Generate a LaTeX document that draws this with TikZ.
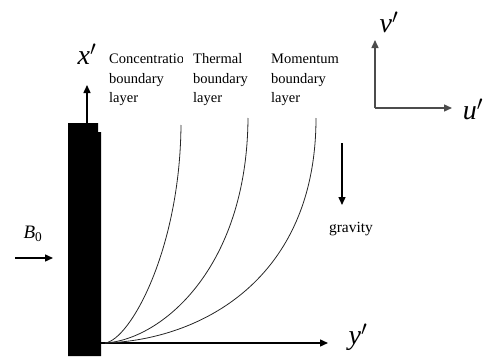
\documentclass[tikz,border=0pt]{standalone}
\usepackage{fontspec}
\setmainfont{Liberation Serif}
\usetikzlibrary{arrows.meta}
\begin{document}
\begin{tikzpicture}[x=1pt,y=-1pt,
  arr/.style={line width=1.4pt,-{Triangle[length=8pt,width=7pt]}},
  grayarr/.style={line width=1.4pt,draw=black!70,-{Triangle[length=8pt,width=7pt]}},
  curve/.style={line width=0.8pt,draw=black!85},
  lbl/.style={inner sep=0pt,anchor=north west,align=left,font=\fontsize{14.5}{19.5}\selectfont},
  mathlbl/.style={inner sep=0pt,font=\fontsize{28}{30}\selectfont}]
\useasboundingbox (0,0) rectangle (483,359);
% wall
\fill[black] (68,123) -- (98,123) -- (98,132) -- (101,132) -- (101,356) -- (68,356) -- cycle;
\coordinate (wtop) at (87,123);
\coordinate (xtip) at (87,85);
\coordinate (o) at (101,343);
\coordinate (ytip) at (328,343);
\coordinate (c0) at (105,343);
\coordinate (c1) at (181,125);
\coordinate (c2) at (248,118);
\coordinate (c3) at (316,118);
% axes
\draw[arr] (wtop) -- (xtip);
\draw[arr] (o) -- (ytip);
\node[mathlbl] (xl) at (87,54) {\textit{x}$'$};
\node[mathlbl] (yl) at (358,337) {\textit{y}$'$};
% boundary layer curves
\draw[curve] (c0) .. controls (130,340) and (180,250) .. (c1);
\draw[curve] (c0) .. controls (160,340) and (247,270) .. (c2);
\draw[curve] (c0) .. controls (200,340) and (316,280) .. (c3);
% labels
\begin{scope}
\clip (100,40) rectangle (182,120);
\node[lbl] (conc) at (109,50) {\strut Concentration\\boundary\\layer};
\end{scope}
\node[lbl] (therm) at (193,50) {\strut Thermal\\boundary\\layer};
\node[lbl] (mom) at (271,50) {\strut Momentum\\boundary\\layer};
% magnetic field
\coordinate (b1) at (15,258);
\coordinate (b2) at (53,258);
\draw[arr] (b1) -- (b2);
\node[inner sep=0pt,font=\fontsize{19}{20}\selectfont] (bl) at (33,234) {\textit{B}\textsubscript{0}};
% gravity
\coordinate (g1) at (342,143);
\coordinate (g2) at (342,205);
\draw[arr] (g1) -- (g2);
\node[inner sep=0pt,font=\fontsize{15.5}{18}\selectfont] (gl) at (351,229) {gravity};
% velocity axes
\coordinate (corner) at (375,108);
\coordinate (vtip) at (375,40);
\coordinate (utip) at (452,108);
\draw[grayarr] (corner) -- (vtip);
\draw[grayarr] (corner) -- (utip);
\node[mathlbl] (vl) at (389,22) {\textit{v}$'$};
\node[mathlbl] (ul) at (473,109) {\textit{u}$'$};
\end{tikzpicture}
\end{document}
